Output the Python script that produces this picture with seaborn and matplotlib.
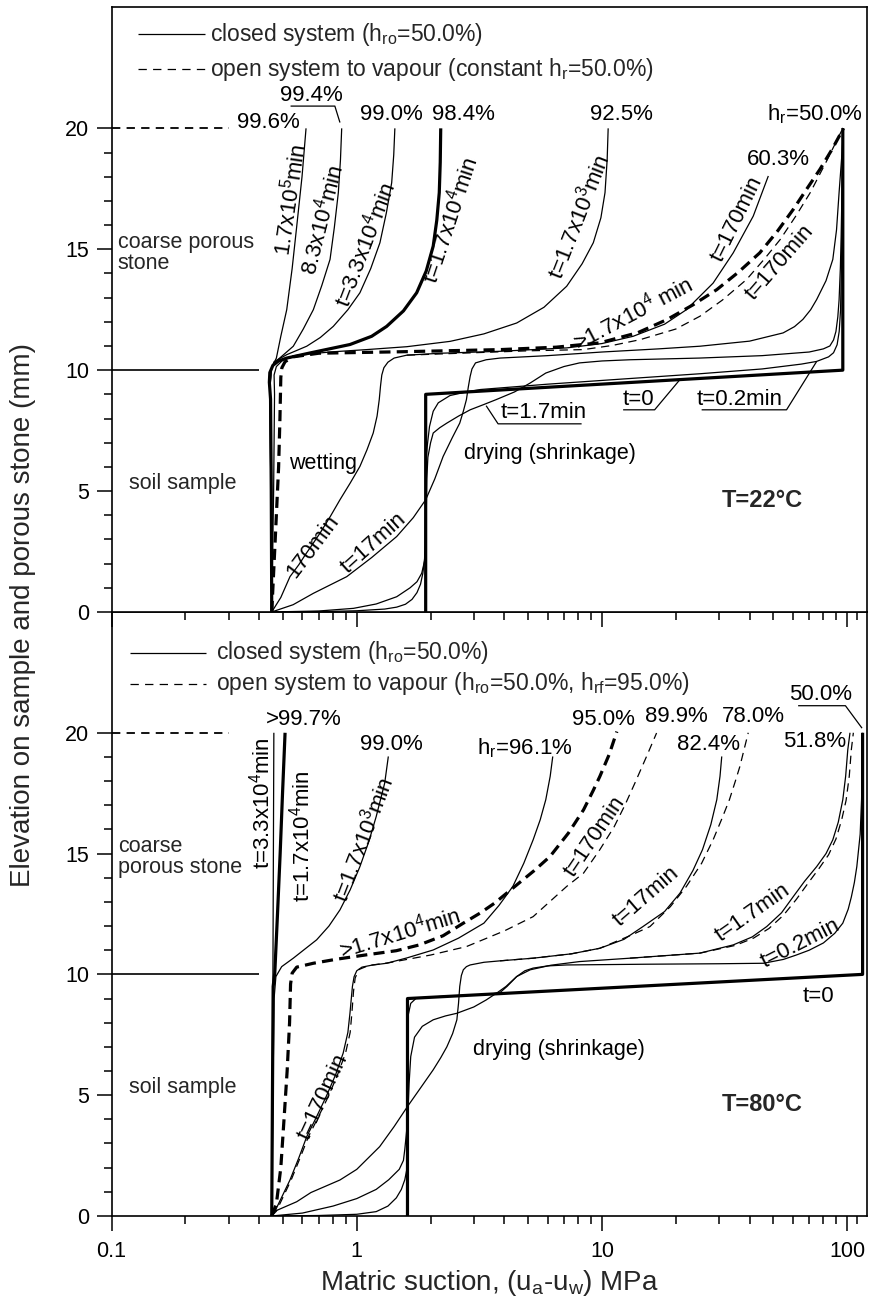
import matplotlib
matplotlib.use("Agg")
import matplotlib.pyplot as plt
import pandas as pd
import seaborn as sns
from matplotlib.ticker import FixedLocator, NullFormatter, FixedFormatter

# ---------------------------------------------------------------------------
# Suction profiles (x: matric suction in MPa, y: elevation in mm)
# ---------------------------------------------------------------------------

# ---- T = 22 C -------------------------------------------------------------
t22_initial = [(1.91, 0), (1.91, 9.0), (96, 10.0), (96, 20)]

t22_closed_0p2min = [
    (0.45, 0), (0.75, 0.02), (1.0, 0.05), (1.3, 0.12), (1.455, 0.2), (1.58, 0.32),
    (1.68, 0.52), (1.76, 0.8), (1.82, 1.15), (1.86, 1.6), (1.89, 2.2), (1.9, 2.8),
    (1.91, 4.5), (1.91, 6.02), (1.94, 6.9), (1.98, 7.67), (2.05, 8.3), (2.15, 8.65),
    (2.4, 8.95), (2.8, 9.1), (3.2, 9.2), (6, 9.42), (12, 9.63), (25, 9.85),
    (45, 10.05), (65, 10.25), (75, 10.36), (84, 10.55), (88, 10.72), (91, 11.05),
    (92.8, 11.6), (94, 12.5), (95, 15), (95.7, 18), (96, 20)]

t22_closed_1p7min = [
    (0.45, 0), (0.7, 0.04), (0.97, 0.15), (1.2, 0.33), (1.455, 0.63), (1.65, 1.0),
    (1.76, 1.25), (1.84, 1.6), (1.89, 2.1), (1.91, 2.6), (1.92, 4.0), (1.93, 5.5),
    (1.95, 6.4), (2.0, 7.0), (2.05, 7.4), (2.18, 7.62), (2.33, 7.81), (2.6, 8.1),
    (2.9, 8.36), (3.3, 8.58), (3.7, 8.78), (4.4, 9.1), (5.1, 9.47), (5.9, 9.88),
    (7.0, 10.15), (8.1, 10.3), (10, 10.38), (13, 10.43), (25, 10.5), (45, 10.6),
    (70, 10.75), (80, 10.88), (85, 11.0), (88, 11.25), (90, 11.6), (91.6, 12.2),
    (92.7, 12.9), (93.8, 14.2), (94.5, 15.5), (95.5, 18), (96, 20)]

t22_closed_17min = [
    (0.45, 0), (0.55, 0.3), (0.665, 0.77), (0.91, 1.46), (1.15, 2.25), (1.455, 3.12),
    (1.7, 3.9), (1.91, 4.64), (2.08, 5.5), (2.25, 6.43), (2.45, 7.2), (2.63, 7.81),
    (2.72, 8.3), (2.8, 8.78), (2.85, 9.3), (2.9, 9.74), (2.95, 10.05),
    (3.05, 10.3), (3.37, 10.43), (3.84, 10.5), (6, 10.6), (10, 10.75), (17, 10.88),
    (25.1, 10.99), (40, 11.2), (54.8, 11.54), (61, 11.8), (66, 12.1), (71, 12.5),
    (75.1, 12.92), (82, 13.7), (87.4, 14.58), (90.5, 15.8), (92.7, 17.34),
    (95, 18.8), (96.6, 20)]

t22_closed_170min = [
    (0.45, 0), (0.49, 0.6), (0.534, 1.46), (0.58, 1.95), (0.62, 2.4), (0.66, 2.8),
    (0.708, 3.26), (0.78, 3.95), (0.854, 4.64), (0.94, 5.33), (1.03, 6.02),
    (1.1, 6.7), (1.167, 7.4), (1.21, 8.1), (1.235, 8.78), (1.25, 9.35),
    (1.265, 9.8), (1.29, 10.1), (1.34, 10.33), (1.42, 10.5), (1.6, 10.62),
    (2.2, 10.7), (3.84, 10.78), (7.18, 10.92), (10, 11.1), (13.4, 11.4),
    (18, 11.9), (22.1, 12.5), (28.4, 13.6), (34.3, 14.85), (41.4, 16.37),
    (47.7, 18.03)]

t22_open_170min = [
    (1.6, 10.62), (3, 10.72), (5, 10.8), (8.4, 10.85), (11, 11.02), (14.3, 11.26),
    (20, 11.7), (25.1, 12.23), (31, 12.9), (38.9, 13.75), (46, 14.6), (53.3, 15.4),
    (62, 16.4), (70.7, 17.34), (82, 18.6), (96, 20)]

t22_open_steady = [
    (0.45, 0), (0.465, 3), (0.48, 6), (0.486, 8), (0.49, 9.7), (0.495, 10.1),
    (0.51, 10.35), (0.55, 10.55), (0.7, 10.7), (1.5, 10.76), (3.84, 10.85),
    (6.5, 10.95), (9.8, 11.13), (14, 11.55), (18.4, 12.09), (23.5, 12.7),
    (29.4, 13.33), (36, 14.05), (44, 14.85), (52, 15.75), (60.3, 16.65),
    (68, 17.45), (77.4, 18.3), (87, 19.15), (96.6, 20)]

t22_closed_1p7e3min = [
    (0.45, 0), (0.458, 5), (0.462, 9), (0.46, 9.8), (0.47, 10.15), (0.5, 10.42),
    (0.587, 10.64), (0.8, 10.76), (1.097, 10.85), (1.6, 10.97), (2.40, 11.19),
    (3.3, 11.5), (4.49, 11.95), (5.8, 12.6), (7.18, 13.47), (8.3, 14.4),
    (9.22, 15.27), (9.9, 16.3), (10.29, 17.34), (10.5, 18.7), (10.6, 20)]

t22_closed_1p7e4min = [
    (0.45, 0), (0.448, 5), (0.445, 8.8), (0.44, 9.5), (0.442, 9.9), (0.455, 10.2),
    (0.48, 10.38), (0.518, 10.5), (0.644, 10.71), (0.938, 11.06), (1.15, 11.4),
    (1.324, 11.81), (1.55, 12.45), (1.755, 13.2), (1.92, 14.1), (2.05, 15.13),
    (2.12, 16.2), (2.17, 17.34), (2.19, 18.6), (2.20, 20)]

t22_closed_3p3e4min = [
    (0.45, 0), (0.446, 5), (0.443, 9.3), (0.448, 10.0), (0.46, 10.35),
    (0.518, 10.64), (0.625, 10.99), (0.71, 11.35), (0.802, 11.81), (0.92, 12.5),
    (1.03, 13.2), (1.14, 14.2), (1.243, 15.27), (1.32, 16.5), (1.388, 17.75),
    (1.415, 18.9), (1.43, 20)]

t22_closed_8p3e4min = [
    (0.45, 0), (0.446, 5), (0.443, 9.3), (0.448, 10.0), (0.46, 10.3),
    (0.494, 10.57), (0.551, 10.99), (0.605, 11.7), (0.665, 12.5), (0.72, 13.5),
    (0.778, 14.58), (0.81, 15.9), (0.841, 17.34), (0.858, 18.7), (0.868, 20)]

t22_closed_1p7e5min = [
    (0.45, 0), (0.446, 5), (0.443, 9.3), (0.446, 10.0), (0.455, 10.2),
    (0.470, 10.5), (0.49, 11.4), (0.518, 12.5), (0.545, 14.2), (0.569, 15.95),
    (0.598, 18.0), (0.621, 20)]

# ---- T = 80 C -------------------------------------------------------------
t80_initial = [(1.61, 0), (1.61, 9.0), (115.6, 10.0), (115.6, 20)]

t80_closed_0p2min = [
    (0.45, 0), (0.7, 0.02), (1.0, 0.07), (1.2, 0.18), (1.34, 0.41), (1.45, 0.75),
    (1.52, 1.1), (1.57, 1.5), (1.6, 1.93), (1.61, 2.6), (1.61, 4), (1.61, 7.5),
    (1.62, 8.3), (1.66, 8.8), (1.75, 9.02), (2.3, 9.1), (3.0, 9.15), (3.5, 9.18),
    (3.84, 9.25), (4.1, 9.5), (4.49, 9.91), (4.85, 10.15), (5.24, 10.26),
    (6.0, 10.35), (7.18, 10.39), (15, 10.42), (30, 10.44), (45.6, 10.46),
    (55, 10.62), (62, 10.8), (70, 11.0), (80, 11.3), (89, 11.7), (96, 12.12),
    (101, 12.7), (104, 13.2), (107, 13.8), (109.5, 14.46), (113, 15.8),
    (114.5, 17.23), (115.3, 18.8), (115.6, 20)]

t80_closed_1p7min = [
    (0.45, 0), (0.6, 0.12), (0.8, 0.41), (1.0, 0.72), (1.2, 1.1), (1.35, 1.5),
    (1.49, 1.93), (1.55, 2.3), (1.57, 2.76), (1.6, 3.6), (1.62, 4.5),
    (1.635, 5.5), (1.66, 6.6), (1.72, 7.4), (1.85, 7.85), (2.05, 8.12),
    (2.3, 8.28), (2.56, 8.39), (3.0, 8.65), (3.37, 8.94), (3.75, 9.25),
    (4.06, 9.5), (4.49, 9.91), (5.1, 10.19), (6.2, 10.38), (8.1, 10.53),
    (13, 10.67), (25.1, 10.88), (34.3, 11.22), (41, 11.55), (47, 11.98),
    (54, 12.55), (60.3, 13.22), (67, 13.85), (75.1, 14.46), (82, 15.0),
    (87.4, 15.57), (92, 16.3), (96, 17.23), (98.6, 18.2), (100.6, 19.3),
    (102.7, 20.0)]

t80_open_1p7min = [
    (13, 10.67), (25.1, 10.88), (35, 11.2), (41.5, 11.5), (48, 11.9), (55, 12.45),
    (62, 13.1), (69, 13.75), (77, 14.4), (84, 14.95), (90, 15.6), (95, 16.4),
    (99, 17.2), (102, 18.2), (104, 19.3), (106, 20)]

t80_closed_17min = [
    (0.45, 0), (0.464, 0.2), (0.569, 0.59), (0.65, 0.97), (0.854, 1.49),
    (1.0, 1.93), (1.24, 2.87), (1.42, 3.7), (1.61, 4.53), (1.82, 5.3),
    (2.05, 6.05), (2.2, 6.55), (2.33, 7.0), (2.46, 7.55), (2.56, 8.12),
    (2.6, 8.8), (2.63, 9.5), (2.67, 9.95), (2.72, 10.19), (2.8, 10.32),
    (2.9, 10.39), (3.3, 10.5), (3.84, 10.56), (5.24, 10.67), (7.5, 10.85),
    (9.8, 11.08), (12.3, 11.45), (14.7, 11.98), (18, 12.6), (20.8, 13.36),
    (23.5, 14.3), (25.7, 15.16), (27.8, 16.2), (29.4, 17.23), (30.3, 18.2),
    (30.8, 19.02)]

t80_open_17min = [
    (3.84, 10.56), (5.24, 10.67), (7.5, 10.85), (9.8, 11.08), (13, 11.6),
    (15.7, 11.98), (19, 12.8), (22.1, 13.64), (25.5, 14.6), (28.4, 15.57),
    (31, 16.5), (33.1, 17.23), (35, 18), (36.5, 18.6), (39.5, 20)]

t80_closed_170min = [
    (0.45, 0), (0.464, 0.2), (0.534, 1.49), (0.58, 2.4), (0.625, 3.28),
    (0.685, 4.1), (0.75, 4.94), (0.82, 5.85), (0.88, 6.74), (0.92, 7.6),
    (0.938, 8.39), (0.95, 9.0), (0.96, 9.5), (0.975, 9.9), (1.0, 10.15),
    (1.05, 10.3), (1.15, 10.38), (1.324, 10.46), (1.6, 10.68), (2.05, 11.01),
    (2.6, 11.5), (3.3, 12.12), (3.8, 12.85), (4.33, 13.64), (4.8, 14.6),
    (5.24, 15.57), (5.6, 16.4), (5.9, 17.23), (6.15, 18.2), (6.3, 19.02)]

t80_open_170min = [
    (0.45, 0), (0.47, 0.2), (0.54, 1.49), (0.587, 2.4), (0.635, 3.28),
    (0.697, 4.1), (0.765, 4.94), (0.835, 5.85), (0.9, 6.74), (0.94, 7.6),
    (0.955, 8.39), (0.97, 9.3), (0.985, 9.85), (1.02, 10.2), (1.12, 10.37),
    (1.35, 10.48), (2.0, 10.8), (2.8, 11.15), (4.0, 11.8), (5.24, 12.39),
    (7.18, 13.64), (8.41, 14.19), (9.8, 15.16), (11.2, 16.1), (12.4, 17.0),
    (13.6, 17.9), (15.2, 19.02), (16.7, 19.99)]

t80_open_steady = [
    (0.45, 0), (0.47, 0.5), (0.49, 2), (0.505, 4), (0.52, 6), (0.532, 8),
    (0.537, 9.6), (0.545, 10.05), (0.569, 10.3), (0.665, 10.46), (0.83, 10.63),
    (1.097, 10.81), (1.45, 10.98), (1.80, 11.22), (2.25, 11.6), (2.72, 12.12),
    (3.2, 12.55), (3.65, 12.95), (4.55, 13.75), (5.3, 14.3), (6.14, 14.88),
    (7.3, 15.85), (8.41, 16.81), (9.2, 17.6), (9.8, 18.19), (10.7, 19.1),
    (11.5, 20.05)]

t80_closed_1p7e3min = [
    (0.45, 0), (0.455, 5), (0.46, 9.0), (0.468, 9.91), (0.494, 10.32),
    (0.551, 10.67), (0.686, 11.43), (0.77, 12.0), (0.854, 12.67), (0.94, 13.5),
    (1.03, 14.46), (1.12, 15.5), (1.20, 16.53), (1.30, 17.92), (1.345, 19.02)]

t80_closed_1p7e4min = [
    (0.45, 0), (0.453, 5), (0.456, 9.5), (0.463, 10.05), (0.475, 12.5),
    (0.487, 15), (0.498, 17.5), (0.51, 20)]

t80_closed_3p3e4min = [(0.45, 0), (0.452, 5), (0.455, 10), (0.457, 15), (0.459, 20)]

x_ticks = [0.1, 1, 10, 100]
x_tick_labels = ["0.1", "1", "10", "100"]
y_ticks = [0, 5, 10, 15, 20]

# ---------------------------------------------------------------------------
sns.set_theme(style="ticks")
plt.rcParams.update({
    "font.family": ["Liberation Sans", "DejaVu Sans"],
    "mathtext.fontset": "custom",
    "mathtext.rm": "Liberation Sans",
    "mathtext.it": "Liberation Sans:italic",
    "mathtext.bf": "Liberation Sans:bold",
    "axes.edgecolor": "black",
    "axes.linewidth": 1.2,
    "axes.facecolor": "white",
    "xtick.color": "black",
    "ytick.color": "black",
    "xtick.direction": "out",
    "ytick.direction": "out",
    "xtick.major.size": 11,
    "xtick.minor.size": 6,
    "ytick.major.size": 11,
    "ytick.minor.size": 6,
    "xtick.major.width": 1.1,
    "xtick.minor.width": 1.1,
    "ytick.major.width": 1.1,
    "ytick.minor.width": 1.1,
    "xtick.labelsize": 15.5,
    "ytick.labelsize": 15.5,
    "lines.scale_dashes": False,
})

THIN, THICK = 0.9, 2.3
FS = 16


def profile(ax, pts, lw=THIN, dashes=None):
    df = pd.DataFrame(pts, columns=["suction", "elevation"])
    sns.lineplot(data=df, x="suction", y="elevation", sort=False, estimator=None,
                 color="black", lw=lw, ax=ax)
    line = ax.lines[-1]
    if dashes is not None:
        line.set_dashes(dashes)
    line.set_solid_capstyle("butt")
    line.set_solid_joinstyle("round")
    return line


def label(ax, x, y, s, rot=0, size=FS, **kw):
    ax.text(x, y, s, rotation=rot, rotation_mode="anchor", ha="center",
            va="center", fontsize=size, color="black", **kw)


def stroke(ax, xs, ys, lw=0.9):
    ax.plot(xs, ys, color="black", lw=lw, solid_capstyle="butt")


fig = plt.figure(figsize=(8.69, 13.04), dpi=100)
ax_top = fig.add_axes([0.1284, 0.5307, 0.8688, 0.4636])
ax_bot = fig.add_axes([0.1284, 0.0675, 0.8688, 0.4632])
ax_top.set_zorder(3)

for ax in (ax_top, ax_bot):
    ax.set_xscale("log")
    ax.set_xlim(0.1, 120)
    ax.set_ylim(0, 25)
    ax.yaxis.set_major_locator(FixedLocator(y_ticks))
    ax.yaxis.set_minor_locator(FixedLocator(list(range(0, 21))))
    ax.xaxis.set_major_locator(FixedLocator(x_ticks))
    ax.xaxis.set_minor_locator(FixedLocator(
        [m * 10.0 ** e for e in (-1, 0, 1) for m in range(2, 10)] + [110]))
    ax.xaxis.set_minor_formatter(NullFormatter())
    ax.tick_params(axis="both", which="both", top=False, right=False)
    ax.tick_params(axis="y", which="major", pad=5)
    ax.tick_params(axis="x", which="major", pad=7)
    for sp in ax.spines.values():
        sp.set_visible(True)
        sp.set_linewidth(1.2)
        sp.set_color("black")
    # interface between sample and porous stone, and top of the stone
    stroke(ax, [0.1, 0.40], [10, 10], lw=1.2)
    ax.plot([0.1, 0.30], [20, 20], color="black", lw=1.3, dashes=[6, 4.5])
    ax.text(0.106, 14.85, "coarse porous\nstone" if ax is ax_top else "coarse\nporous stone",
            ha="left", va="center", fontsize=15.5, linespacing=1.0)
    ax.text(0.118, 5.3, "soil sample", ha="left", va="center", fontsize=15.5)

ax_top.xaxis.set_major_formatter(NullFormatter())
ax_bot.xaxis.set_major_formatter(FixedFormatter(x_tick_labels))

# ---------------------------- T = 22 C -------------------------------------
a = ax_top
for pts in (t22_closed_0p2min, t22_closed_1p7min, t22_closed_17min,
            t22_closed_170min, t22_closed_1p7e3min, t22_closed_3p3e4min,
            t22_closed_8p3e4min, t22_closed_1p7e5min):
    profile(a, pts)
profile(a, t22_open_170min, dashes=[6, 4])
profile(a, t22_open_steady, lw=THICK, dashes=[8, 4.5])
profile(a, t22_closed_1p7e4min, lw=THICK)
profile(a, t22_initial, lw=THICK)

# legend
stroke(a, [0.1276, 0.2403], [23.89, 23.89])
a.plot([0.1276, 0.2403], [22.44, 22.44], color="black", lw=0.9, dashes=[6, 4.5])
a.text(0.253, 23.89, r"closed system (h$_\mathregular{ro}$=50.0%)", ha="left",
       va="center", fontsize=16.5)
a.text(0.253, 22.44, r"open system to vapour (constant h$_\mathregular{r}$=50.0%)",
       ha="left", va="center", fontsize=16.5)

label(a, 0.435, 20.24, "99.6%")
label(a, 0.655, 21.34, "99.4%")
stroke(a, [0.537, 0.814, 0.854], [20.92, 20.92, 20.24])
label(a, 1.388, 20.58, "99.0%")
label(a, 2.72, 20.58, "98.4%")
label(a, 12.0, 20.58, "92.5%")
label(a, 73.9, 20.58, r"h$_\mathregular{r}$=50.0%")
label(a, 52.4, 18.72, "60.3%")

label(a, 0.534, 17.06, r"1.7x10$^\mathregular{5}$min", rot=81.6)
label(a, 0.719, 16.23, r"8.3x10$^\mathregular{4}$min", rot=75.6)
label(a, 1.08, 15.2, r"t=3.3x10$^\mathregular{4}$min", rot=69)
label(a, 2.40, 16.23, r"t=1.7x10$^\mathregular{4}$min", rot=71.6)
label(a, 8.0, 16.37, r"t=1.7x10$^\mathregular{3}$min", rot=68.5)
label(a, 13.4, 12.37, r">1.7x10$^\mathregular{4}$ min", rot=27.8)
label(a, 35.4, 16.23, "t=170min", rot=63.9)
label(a, 53.2, 14.44, "t=170min", rot=49)
label(a, 0.665, 2.7, "170min", rot=53)
label(a, 1.168, 2.84, "t=17min", rot=42)
label(a, 0.73, 6.16, "wetting", size=15.5)
label(a, 6.14, 6.57, "drying (shrinkage)", size=15.5)

label(a, 5.76, 8.23, "t=1.7min")
stroke(a, [3.37, 3.77, 8.26], [8.53, 7.78, 7.78])
label(a, 14.1, 8.78, "t=0")
stroke(a, [12.2, 16.4, 20.8], [8.36, 8.36, 9.61])
label(a, 36.6, 8.78, "t=0.2min")
stroke(a, [25.5, 56.6, 75.1], [8.36, 8.36, 10.36])

a.text(45, 4.6, "T=22°C", ha="center", va="center", fontsize=17, fontweight="bold")

# ---------------------------- T = 80 C -------------------------------------
b = ax_bot
for pts in (t80_closed_0p2min, t80_closed_1p7min, t80_closed_17min,
            t80_closed_170min, t80_closed_1p7e3min, t80_closed_3p3e4min):
    profile(b, pts)
for pts in (t80_open_1p7min, t80_open_17min, t80_open_170min):
    profile(b, pts, dashes=[6, 4])
profile(b, t80_open_steady, lw=THICK, dashes=[8, 4.5])
profile(b, t80_closed_1p7e4min, lw=THICK)
profile(b, t80_initial, lw=THICK)

stroke(b, [0.119, 0.2426], [23.31, 23.31])
b.plot([0.119, 0.2426], [22.03, 22.03], color="black", lw=0.9, dashes=[6, 4.5])
b.text(0.2666, 23.31, r"closed system (h$_\mathregular{ro}$=50.0%)", ha="left",
       va="center", fontsize=16.5)
b.text(0.2666, 22.03,
       r"open system to vapour (h$_\mathregular{ro}$=50.0%, h$_\mathregular{rf}$=95.0%)",
       ha="left", va="center", fontsize=16.5)

label(b, 0.605, 20.54, ">99.7%")
label(b, 1.388, 19.5, "99.0%")
label(b, 4.85, 19.37, r"h$_\mathregular{r}$=96.1%")
label(b, 10.1, 20.54, "95.0%")
label(b, 20.2, 20.68, "89.9%")
label(b, 41.4, 20.68, "78.0%")
label(b, 27.1, 19.5, "82.4%")
label(b, 73.9, 19.64, "51.8%")
label(b, 77.8, 21.57, "50.0%")
stroke(b, [63.1, 98.4, 115], [21.12, 21.12, 20.19])
label(b, 76.2, 9.08, "t=0")

label(b, 0.409, 17.09, r"t=3.3x10$^\mathregular{4}$min", rot=90)
label(b, 0.596, 15.71, r"t=1.7x10$^\mathregular{4}$min", rot=90)
label(b, 1.063, 15.57, r"t=1.7x10$^\mathregular{3}$min", rot=69)
label(b, 1.50, 11.71, r">1.7x10$^\mathregular{4}$min", rot=17)
label(b, 0.73, 4.94, "t=170min", rot=65)
label(b, 9.36, 15.7, "t=170min", rot=56)
label(b, 15.2, 13.22, "t=17min", rot=41)
label(b, 41.4, 12.53, "t=1.7min", rot=35)
label(b, 64.2, 11.29, "t=0.2min", rot=27)
label(b, 6.7, 6.9, "drying (shrinkage)", size=15.5)
b.text(45, 4.6, "T=80°C", ha="center", va="center", fontsize=17, fontweight="bold")

# seaborn fills in the column names as axis titles; the figure carries its own
for ax in (ax_top, ax_bot):
    ax.set_xlabel("")
    ax.set_ylabel("")

fig.text(23 / 869, 1 - 615 / 1304, "Elevation on sample and porous stone (mm)",
         rotation=90, ha="center", va="center", fontsize=20)
fig.text(489 / 869, 1 - 1283 / 1304,
         r"Matric suction, (u$_\mathregular{a}$-u$_\mathregular{w}$) MPa",
         ha="center", va="center", fontsize=20)

fig.savefig("out.png", dpi=100)
